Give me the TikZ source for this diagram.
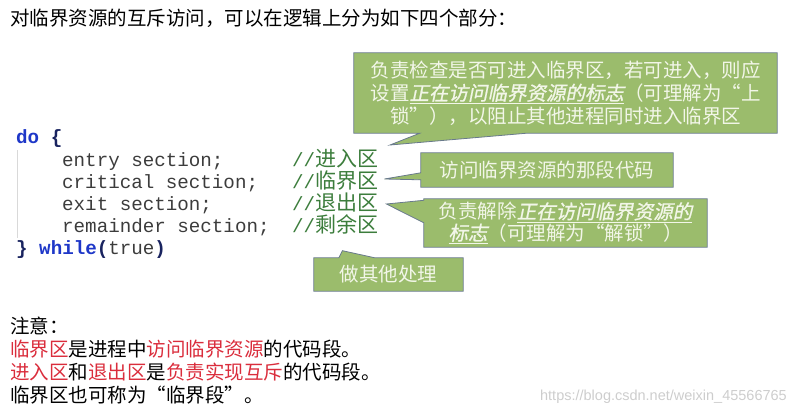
\documentclass[tikz,border=0pt]{standalone}
\usepackage{fontspec}
\usetikzlibrary{calc,backgrounds}
\newfontfamily\cjk{Noto Sans CJK SC}
\newfontfamily\cjkit[FakeSlant=0.2,FakeBold=1]{Noto Sans CJK SC}
\newfontfamily\codefont{Liberation Mono}
\newfontfamily\wmfont{Liberation Sans}
\definecolor{cgreen}{RGB}{155,188,108}
\definecolor{cborder}{RGB}{105,122,140}
\definecolor{cwhite}{RGB}{242,246,232}
\definecolor{cmtgreen}{RGB}{60,125,60}
\definecolor{kwblue}{RGB}{30,55,200}
\definecolor{bracecol}{RGB}{25,35,95}
\definecolor{codegray}{RGB}{60,60,60}
\definecolor{notered}{RGB}{218,45,60}
\definecolor{wmgray}{RGB}{205,205,205}
\newcommand{\hl}[1]{\underline{\cjkit #1}}
\newcommand{\rd}[1]{\textcolor{notered}{#1}}
\tikzset{
  callout/.style={fill=cgreen, draw=cborder, line width=0.8pt, line join=miter},
  boxtext/.style={inner sep=0pt, align=center, text=cwhite,
    font=\cjk\fontsize{19.5}{23}\selectfont},
  code/.style={anchor=west, inner sep=0pt, text=codegray, text height=14pt, text depth=4pt,
    font=\codefont\fontsize{19.2}{23}\selectfont},
  cmt/.style={anchor=west, inner sep=0pt, text=cmtgreen, text height=15pt, text depth=4pt,
    font=\fontsize{21}{23}\selectfont},
  note/.style={anchor=west, inner sep=0pt, text=black, text height=15pt, text depth=4pt,
    font=\cjk\fontsize{19.5}{23}\selectfont},
  guide/.style={draw=black!15, line width=0.8pt}
}
\begin{document}
\begin{tikzpicture}[x=1pt,y=-1pt]
\useasboundingbox (0,0) rectangle (803,420);

% heading
\node[note] (head) at (10,20) {对临界资源的互斥访问，可以在逻辑上分为如下四个部分：};

% code
\node[code] (l0) at (16,138) {\textcolor{kwblue}{\bfseries do} \textcolor{bracecol}{\bfseries\{}};
\node[code] (l1) at (62,161) {entry section;};
\node[code] (l2) at (62,183) {critical section;};
\node[code] (l3) at (62,205) {exit section;};
\node[code] (l4) at (62,227) {remainder section;};
\node[code] (l5) at (16,249) {\textcolor{bracecol}{\bfseries\}} \textcolor{kwblue}{\bfseries while}\textcolor{bracecol}{\bfseries(}true\textcolor{bracecol}{\bfseries)}};
\draw[guide] (17,150) -- (17,238);

% comments
\node[cmt] (c1) at (292,161) {{\codefont\fontsize{19.2}{23}\selectfont //}\cjk 进入区};
\node[cmt] (c2) at (292,183) {{\codefont\fontsize{19.2}{23}\selectfont //}\cjk 临界区};
\node[cmt] (c3) at (292,205) {{\codefont\fontsize{19.2}{23}\selectfont //}\cjk 退出区};
\node[cmt] (c4) at (292,227) {{\codefont\fontsize{19.2}{23}\selectfont //}\cjk 剩余区};

% callout boxes (text)
\node[boxtext, minimum width=423pt, minimum height=80pt] (b1) at (565.5,93)
  {负责检查是否可进入临界区，若可进入，则应\\
   设置\hl{正在访问临界资源的标志}（可理解为“上\\
   锁”），以阻止其他进程同时进入临界区};
\node[boxtext, minimum width=252pt, minimum height=34pt] (b2) at (547,170)
  {访问临界资源的那段代码};
\node[boxtext, minimum width=283pt, minimum height=48pt, font=\cjk\fontsize{19.5}{20}\selectfont] (b3) at (565.5,223)
  {负责解除\hl{正在访问临界资源的}\\
   \hl{标志}（可理解为“解锁”）};
\node[boxtext, minimum width=149pt, minimum height=33pt] (b4) at (388.5,274.5)
  {做其他处理};

% callout tips
\coordinate (t1) at (390,145);
\coordinate (t2) at ($(c2.east)+(6,-4)$);
\coordinate (t3) at ($(c3.east)+(8,-1)$);
\coordinate (t4) at ($(c4.south east)+(-36,14)$);

\begin{scope}[on background layer]
\path[callout] (b1.north west) -- (b1.north east) -- (b1.south east)
  -- ($(b1.south west)+(173,0)$) -- (t1) -- ($(b1.south west)+(66,0)$)
  -- (b1.south west) -- cycle;
\path[callout] (b2.north west) -- (b2.north east) -- (b2.south east)
  -- (b2.south west) -- ($(b2.north west)+(0,27)$) -- (t2)
  -- ($(b2.north west)+(0,20)$) -- cycle;
\path[callout] (b3.north west) -- (b3.north east) -- (b3.south east)
  -- (b3.south west) -- ($(b3.north west)+(0,24)$) -- (t3)
  -- ($(b3.north west)+(0,1.5)$) -- cycle;
\path[callout] (b4.north west) -- ($(b4.north west)+(25,0)$) -- (t4)
  -- ($(b4.north west)+(61,0)$) -- (b4.north east) -- (b4.south east)
  -- (b4.south west) -- cycle;
\end{scope}

% notes
\node[note] (n0) at (10,328) {注意：};
\node[note] (n1) at (10,351) {\rd{临界区}是进程中\rd{访问临界资源}的代码段。};
\node[note] (n2) at (10,374) {\rd{进入区}和\rd{退出区}是\rd{负责实现互斥}的代码段。};
\node[note] (n3) at (10,397) {临界区也可称为“临界段”。};

% watermark
\node[anchor=east, inner sep=0pt, text=wmgray, font=\wmfont\fontsize{14.5}{16}\selectfont] (wm) at (787,397) {https://blog.csdn.net/weixin\_45566765};
\end{tikzpicture}
\end{document}
